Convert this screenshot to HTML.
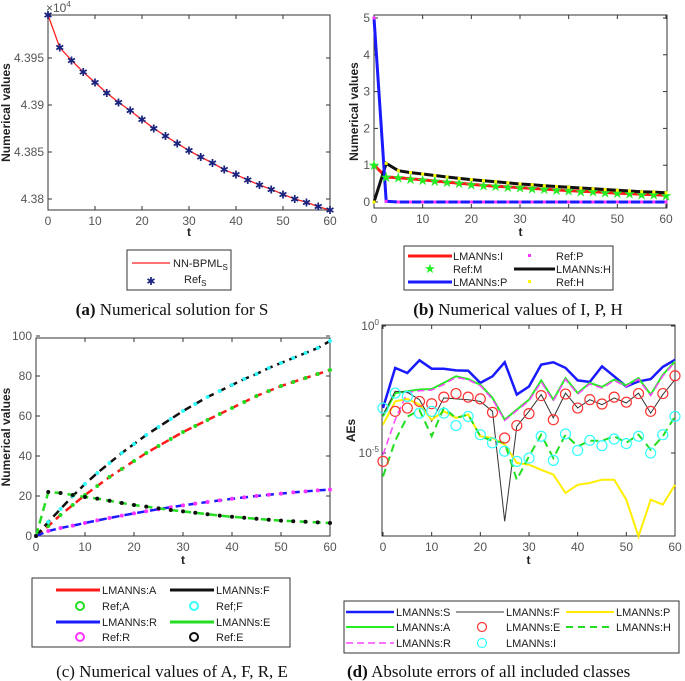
<!DOCTYPE html>
<html><head><meta charset="utf-8"><style>
html,body{margin:0;padding:0;background:#fff;}
svg{display:block;font-family:"Liberation Sans",Arial,sans-serif;}
.tk{font-size:12px;fill:#555;}
.al{font-size:12px;font-weight:bold;fill:#222;}
.lg{font-size:11px;fill:#222;}
.cap{font-family:"Liberation Serif",serif;font-size:17px;fill:#111;}
</style></head><body>
<svg id="fig" width="685" height="681" viewBox="0 0 685 681" xmlns="http://www.w3.org/2000/svg"></svg>
<script>
// ---------- data ----------
const tVals=[0,2.5,5,7.5,10,12.5,15,17.5,20,22.5,25,27.5,30,32.5,35,37.5,40,42.5,45,47.5,50,52.5,55,57.5,60];
// panel a
const sVals=[4.39957,4.3961,4.39475,4.3935,4.3924,4.39128,4.39029,4.3894,4.38844,4.38752,4.3867,4.38592,4.38514,4.38447,4.38383,4.38312,4.38259,4.38202,4.38149,4.38103,4.3805,4.38,4.37965,4.37918,4.37883];
const aYTicks=[4.38,4.385,4.39,4.395];
const aYLabels=["4.38","4.385","4.39","4.395"];
const xTicks=[0,10,20,30,40,50,60];
// panel b
const iVals=[1,0.68,0.66,0.63,0.6,0.57,0.54,0.51,0.48,0.45,0.43,0.41,0.39,0.37,0.35,0.33,0.31,0.29,0.28,0.26,0.24,0.23,0.21,0.2,0.18];
const hVals=[0,1.05,0.85,0.8,0.76,0.72,0.68,0.64,0.61,0.58,0.55,0.52,0.49,0.47,0.44,0.42,0.4,0.38,0.36,0.34,0.32,0.3,0.28,0.27,0.25];
const pVals=[5,0.02,0,0,0,0,0,0,0,0,0,0,0,0,0,0,0,0,0,0,0,0,0,0,0];
const bYTicks=[0,1,2,3,4,5];
// panel c
const aCVals=[0,5,10.5,15.5,20.5,25,29.5,33.5,37.5,41.5,45,48.5,52,55,58,61,64,67,70,72.5,75,77,79,81,83];
const fCVals=[0,7,13.5,20,26,31.5,36.5,41.5,46,50.5,54.5,58.5,62.5,66,69.5,72.5,75.5,78.5,81,84,86.5,89,91.5,94,97.5];
const rCVals=[0,2.5,4,5.2,6.5,7.8,9,10.2,11.3,12.4,13.4,14.4,15.3,16.2,17,17.8,18.6,19.3,20,20.6,21.2,21.8,22.3,22.8,23.2];
const eCVals=[0,22,21.5,20.5,19.5,18.7,17.6,16.5,15.5,14.7,13.8,13,12.3,11.6,10.9,10.2,9.6,9.1,8.6,8.1,7.7,7.4,7.1,6.8,6.5];
const cYTicks=[0,20,40,60,80,100];
// panel d (log10 of absolute errors)
const errS=[-3.23,-1.65,-1.85,-1.35,-1.68,-1.68,-1.75,-1.76,-2.24,-1.98,-1.43,-2.7,-2.38,-1.52,-1.43,-1.65,-2.14,-2.2,-1.59,-1.98,-2.38,-2.18,-2.09,-1.61,-1.33];
const errA=[-3.56,-2.64,-2.57,-2.5,-2.48,-2.24,-1.98,-2.09,-2.31,-2.83,-3.69,-3.29,-2.9,-2.14,-2.9,-2.05,-2.64,-2.24,-2.4,-2.11,-2.34,-2.05,-2.7,-1.92,-1.39];
const errR=[-5.07,-3.69,-2.62,-2.55,-2.52,-2.3,-2.02,-2.12,-2.35,-2.88,-3.72,-3.33,-2.95,-2.2,-2.95,-2.1,-2.68,-2.28,-2.44,-2.15,-2.38,-2.1,-2.74,-1.97,-1.42];
const errF=[-3.49,-2.57,-2.61,-2.9,-3.75,-2.83,-2.87,-2.9,-2.97,-3.36,-7.69,-3.95,-3.36,-2.7,-3.62,-2.64,-3.23,-2.9,-3.1,-2.83,-3.03,-2.64,-3.43,-2.7,-2.11];
const errP=[-3.88,-2.97,-2.87,-3.1,-3.69,-3.36,-3.62,-3.49,-4.34,-4.41,-4.67,-5.39,-5.46,-5.66,-5.85,-6.57,-6.25,-6.18,-6.05,-6.05,-6.84,-8.28,-6.84,-7.03,-6.25];
const errH=[-5.92,-4.52,-3.57,-3.31,-4.34,-3.23,-3.62,-3.49,-4.34,-4.52,-4.6,-6.05,-5.13,-4.28,-5.2,-4.28,-4.74,-4.52,-4.52,-4.34,-4.6,-4.28,-4.87,-4.34,-3.56];
const errE=[-5.33,-3.36,-3.23,-2.97,-3.06,-2.8,-2.66,-2.8,-2.87,-3.4,-4.41,-3.92,-3.45,-2.74,-3.69,-2.68,-3.23,-2.9,-3.07,-2.8,-3.0,-2.66,-3.36,-2.66,-1.96];
const errI=[-3.23,-2.64,-2.77,-3.43,-3.36,-3.43,-3.92,-3.56,-4.28,-4.6,-4.93,-5.33,-5.2,-4.34,-5.29,-4.25,-4.9,-4.5,-4.71,-4.45,-4.63,-4.34,-5,-4.28,-3.56];

// ---------- helpers ----------
const NS="http://www.w3.org/2000/svg";
const svg=document.getElementById('fig');
function el(tag,attrs,parent,text){const e=document.createElementNS(NS,tag);for(const k in attrs)e.setAttribute(k,attrs[k]);if(text!==undefined)e.textContent=text;(parent||svg).appendChild(e);return e;}
function lin(d0,d1,p0,p1){return v=>p0+(v-d0)/(d1-d0)*(p1-p0);}
function pathD(xs,ys,X,Y){return xs.map((x,i)=>(i?'L':'M')+X(x).toFixed(1)+','+Y(ys[i]).toFixed(1)).join(' ');}
function frame(g,L,T,R,B){el('rect',{x:L,y:T,width:R-L,height:B-T,fill:'none',stroke:'#333','stroke-width':1},g);}
function xAxis(g,X,T,B,ticks){ticks.forEach(v=>{const x=X(v);el('line',{x1:x,y1:B,x2:x,y2:B-4,stroke:'#333'},g);el('line',{x1:x,y1:T,x2:x,y2:T+4,stroke:'#333'},g);const t=el('text',{x:x,y:B+15,'text-anchor':'middle',class:'tk'},g,String(v));});}
function yAxis(g,Y,L,R,ticks,labels){ticks.forEach((v,i)=>{const y=Y(v);el('line',{x1:L,y1:y,x2:L+4,y2:y,stroke:'#333'},g);el('line',{x1:R,y1:y,x2:R-4,y2:y,stroke:'#333'},g);const t=el('text',{x:L-4,y:y+4,'text-anchor':'end',class:'tk'},g,labels?labels[i]:String(v));});}
function group(name){const g=el('g',{},svg);return g;}
function subText(parent,x,y,main,sub,cls){const t=el('text',{x:x,y:y,class:cls},parent);el('tspan',{},t,main);el('tspan',{dy:3,'font-size':'8'},t,sub);return t;}

// ---------- panel a ----------
(function(){
 const g=group('panel-a');
 const L=48,T=15,R=330,B=210;
 const X=lin(0,60,L,R), Y=lin(4.38,4.395,199,58);
 frame(g,L,T,R,B);xAxis(g,X,T,B,xTicks);yAxis(g,Y,L,R,aYTicks,aYLabels);
 const ex=el('text',{x:L-2,y:T-3,class:'tk','font-size':'11'},g);el('tspan',{},ex,'×10');el('tspan',{dy:-5,'font-size':'8'},ex,'4');
 const ln=el('path',{d:pathD(tVals,sVals,X,Y),fill:'none',stroke:'#ff2020','stroke-width':1.3},g);
 
 tVals.forEach((t,i)=>{const m=el('text',{x:X(t),y:Y(sVals[i])+4,'text-anchor':'middle','font-size':'11',fill:'#1a237e'},g,'✱');});
 el('text',{x:(L+R)/2,y:236,'text-anchor':'middle',class:'al'},g,'t');
 el('text',{x:10,y:(T+B)/2,'text-anchor':'middle',class:'al',transform:`rotate(-90 10 ${(T+B)/2})`},g,'Numerical values');
 const lg=el('g',{},g);
 el('rect',{x:127,y:250,width:104,height:40,fill:'#fff',stroke:'#333'},lg);
 el('line',{x1:132,y1:263,x2:170,y2:263,stroke:'#ff2020','stroke-width':1.3},lg);
 subText(lg,173,267,'NN-BPML','S','lg');
 el('text',{x:151,y:285,'text-anchor':'middle','font-size':'11',fill:'#1a237e'},lg,'✱');
 subText(lg,184,283,'Ref','S','lg');
 const c=el('text',{x:172,y:315,'text-anchor':'middle',class:'cap'},g);
 el('tspan',{'font-weight':'bold'},c,'(a)');el('tspan',{},c,' Numerical solution for S');
})();

// ---------- panel b ----------
(function(){
 const g=group('panel-b');
 const L=374,T=15,R=667,B=208;
 const X=lin(0,60,L,R-1), Y=lin(0,5,202,18);
 frame(g,L,T,R,B);xAxis(g,X,T,B,xTicks);yAxis(g,Y,L,R,bYTicks);
 const specs=[[iVals,'#ff1a1a','lmanns-i-line'],[hVals,'#111','lmanns-h-line'],[pVals,'#1a1aff','lmanns-p-line']];
 specs.forEach(s=>{const p=el('path',{d:pathD(tVals,s[0],X,Y),fill:'none',stroke:s[1],'stroke-width':3},g);});
 tVals.forEach((t,i)=>{
  const m=el('text',{x:X(t),y:Y(iVals[i])+5,'text-anchor':'middle','font-size':'14',fill:'#22ee22'},g,'★');
  const h=el('rect',{x:X(t)-1.5,y:Y(hVals[i])-1.5,width:3,height:3,fill:'#ffff00'},g);
  const p=el('rect',{x:X(t)-1.5,y:Y(pVals[i])-1.5,width:3,height:3,fill:'#ff33ff'},g);
 });
 el('text',{x:(L+R)/2,y:236,'text-anchor':'middle',class:'al'},g,'t');
 el('text',{x:358,y:(T+B)/2,'text-anchor':'middle',class:'al',transform:`rotate(-90 358 ${(T+B)/2})`},g,'Numerical values');
 const lg=el('g',{},g);
 el('rect',{x:404,y:246,width:209,height:44,fill:'#fff',stroke:'#333'},lg);
 el('line',{x1:408,y1:256,x2:452,y2:256,stroke:'#ff1a1a','stroke-width':3},lg);el('text',{x:453,y:260,class:'lg'},lg,'LMANNs:I');
 el('rect',{x:528,y:254,width:3,height:3,fill:'#ff33ff'},lg);el('text',{x:556,y:260,class:'lg'},lg,'Ref:P');
 el('text',{x:430,y:273,'text-anchor':'middle','font-size':'13',fill:'#22ee22'},lg,'★');el('text',{x:453,y:273,class:'lg'},lg,'Ref:M');
 el('line',{x1:514,y1:269,x2:555,y2:269,stroke:'#111','stroke-width':3},lg);el('text',{x:556,y:273,class:'lg'},lg,'LMANNs:H');
 el('line',{x1:408,y1:282,x2:452,y2:282,stroke:'#1a1aff','stroke-width':3},lg);el('text',{x:453,y:286,class:'lg'},lg,'LMANNs:P');
 el('rect',{x:528,y:280,width:3,height:3,fill:'#ffff00'},lg);el('text',{x:556,y:286,class:'lg'},lg,'Ref:H');
 const c=el('text',{x:518,y:315,'text-anchor':'middle',class:'cap'},g);
 el('tspan',{'font-weight':'bold'},c,'(b)');el('tspan',{},c,' Numerical values of I, P, H');
})();

// ---------- panel c ----------
(function(){
 const g=group('panel-c');
 const L=36,T=338,R=330,B=536;
 const X=lin(0,60,L,R), Y=lin(0,100,536,336);
 frame(g,L,T,R,B);xAxis(g,X,T,B,xTicks);yAxis(g,Y,L,R,cYTicks);
 const specs=[[aCVals,'#ff1a1a','#22dd22','lmanns-a-line'],[fCVals,'#111','#33ffff','lmanns-f-line'],[rCVals,'#1a1aff','#ff33ff','lmanns-r-line'],[eCVals,'#22dd22','#111','lmanns-e-line']];
 specs.forEach(s=>{const d=pathD(tVals,s[0],X,Y);
  const p=el('path',{d:d,fill:'none',stroke:s[1],'stroke-width':2.5,'stroke-dasharray':'8 5'},g);
  tVals.forEach((t,i)=>{const m=el('circle',{cx:X(t),cy:Y(s[0][i]),r:2,fill:s[2]},g);});
 });
 el('text',{x:(L+R)/2,y:564,'text-anchor':'middle',class:'al'},g,'t');
 el('text',{x:10,y:(T+B)/2,'text-anchor':'middle',class:'al',transform:`rotate(-90 10 ${(T+B)/2})`},g,'Numerical values');
 const lg=el('g',{},g);
 el('rect',{x:32,y:578,width:258,height:69,fill:'#fff',stroke:'#333'},lg);
 const rows=[[590,'line','#ff1a1a','LMANNs:A','line','#111','LMANNs:F'],[606,'circ','#22dd22','Ref;A','circ','#33ffff','Ref;F'],[622,'line','#1a1aff','LMANNs:R','line','#22dd22','LMANNs:E'],[637,'circ','#ff33ff','Ref:R','circ','#111','Ref:E']];
 rows.forEach(r=>{[[r[1],r[2],r[3],56],[r[4],r[5],r[6],170]].forEach(c=>{
  if(c[0]==='line')el('line',{x1:c[3],y1:r[0],x2:c[3]+44,y2:r[0],stroke:c[1],'stroke-width':3},lg);
  else el('circle',{cx:c[3]+24,cy:r[0],r:4,fill:'none',stroke:c[1],'stroke-width':2},lg);
  el('text',{x:c[3]+46,y:r[0]+4,class:'lg'},lg,c[2]);});});
 const c=el('text',{x:172,y:677,'text-anchor':'middle',class:'cap'},g);
 el('tspan',{},c,'(c) Numerical values of A, F, R, E');
})();

// ---------- panel d ----------
(function(){
 const g=group('panel-d');
 const L=382,T=325,R=675,B=536;
 const X=lin(0,60,L+1,R), Y=lin(0,-5,326,453);
 frame(g,L,T,R,B);xAxis(g,X,T,B,xTicks);
 [0,-5].forEach(v=>{const y=Y(v);el('line',{x1:L,y1:y,x2:L+4,y2:y,stroke:'#333'},g);el('line',{x1:R,y1:y,x2:R-4,y2:y,stroke:'#333'},g);
  const t=el('text',{x:L-3,y:y+4,'text-anchor':'end',class:'tk','font-size':'11'},g);el('tspan',{},t,'10');el('tspan',{dy:-5,'font-size':'8'},t,String(v));});
 const lines=[[errS,'#1a1aff',2.5,'','lmanns-s-line'],[errA,'#22ee22',2,'','lmanns-a-line'],[errR,'#ff44ff',1.5,'7 4','lmanns-r-line'],[errF,'#333',1,'','lmanns-f-line'],[errP,'#ffee00',2,'','lmanns-p-line'],[errH,'#22dd22',2,'8 5','lmanns-h-line']];
 lines.forEach(s=>{const p=el('path',{d:pathD(tVals,s[0],X,Y),fill:'none',stroke:s[1],'stroke-width':s[2],'stroke-dasharray':s[3]},g);});
 [[errE,'#ff3333','lmanns-e-marker'],[errI,'#33ffff','lmanns-i-marker']].forEach(s=>{tVals.forEach((t,i)=>{const m=el('circle',{cx:X(t),cy:Y(s[0][i]),r:5,fill:'none',stroke:s[1],'stroke-width':1.2},g);});});
 el('text',{x:(L+R)/2,y:564,'text-anchor':'middle',class:'al'},g,'t');
 el('text',{x:355,y:(T+B)/2,'text-anchor':'middle',class:'al',transform:`rotate(-90 355 ${(T+B)/2})`},g,'AEs');
 const lg=el('g',{},g);
 el('rect',{x:344,y:601,width:335,height:52,fill:'#fff',stroke:'#333'},lg);
 const items=[[612,396,'line','#1a1aff',2.5,'','LMANNs:S'],[612,506,'line','#333',1,'','LMANNs:F'],[612,616,'line','#ffee00',2,'','LMANNs:P'],
  [627,396,'line','#22ee22',2,'','LMANNs:A'],[627,506,'circ','#ff3333',0,'','LMANNs:E'],[627,616,'line','#22dd22',2,'7 5','LMANNs:H'],
  [643,396,'line','#ff44ff',1.5,'7 4','LMANNs:R'],[643,506,'circ','#33ffff',0,'','LMANNs:I']];
 items.forEach(it=>{const xr=it[1];
  if(it[2]==='line')el('line',{x1:xr-50,y1:it[0],x2:xr-2,y2:it[0],stroke:it[3],'stroke-width':it[4],'stroke-dasharray':it[5]},lg);
  else el('circle',{cx:xr-24,cy:it[0],r:4.5,fill:'none',stroke:it[3],'stroke-width':1.2},lg);
  el('text',{x:xr,y:it[0]+4,class:'lg'},lg,it[6]);});
 const c=el('text',{x:347,y:677,class:'cap'},g);
 el('tspan',{'font-weight':'bold'},c,'(d)');el('tspan',{},c,' Absolute errors of all included classes');
})();
</script>
</body></html>
